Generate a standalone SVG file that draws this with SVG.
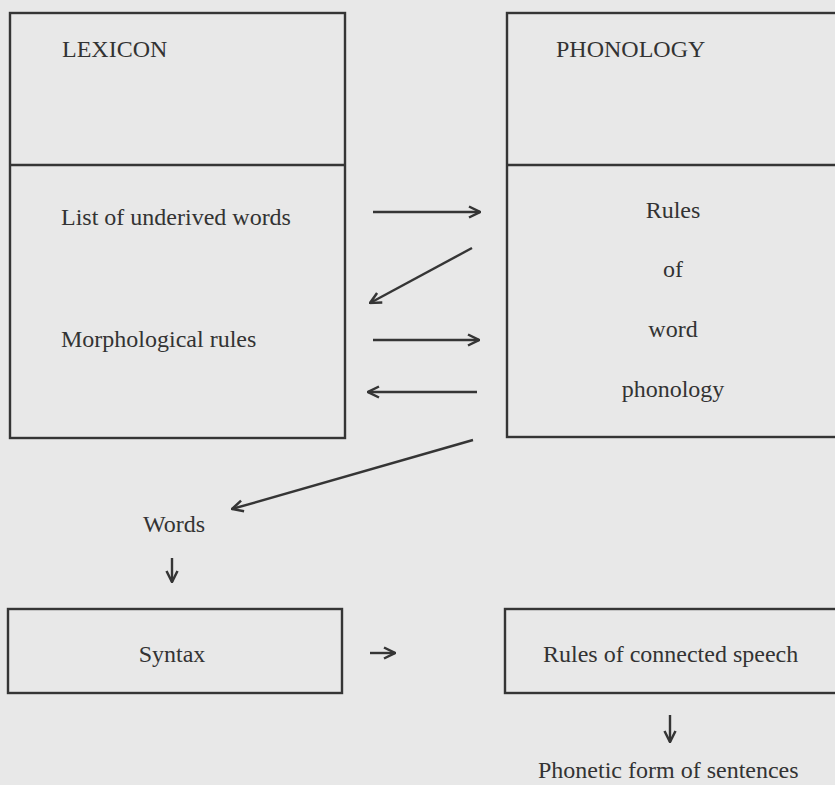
<svg xmlns="http://www.w3.org/2000/svg" width="835" height="785" viewBox="0 0 835 785">
<defs>
<style>
.box{fill:none;stroke:#353535;stroke-width:2.4}
.t{font-family:"Liberation Serif","Times New Roman",serif;font-size:24px;fill:#333}
.c{stroke:#353535;stroke-width:2.4;fill:none}
</style>
<marker id="ah" viewBox="0 0 14 14" refX="13" refY="7" markerWidth="14" markerHeight="14" markerUnits="userSpaceOnUse" orient="auto">
<path d="M2,1.5 L13,7 L2,12.5" fill="none" stroke="#353535" stroke-width="2.5"/>
</marker>
</defs>
<rect width="835" height="785" fill="#e8e8e8"/>
<g id="lexicon">
<rect class="box" x="10" y="13" width="335" height="425"/>
<line class="box" x1="10" y1="165" x2="345" y2="165"/>
<text class="t" x="62" y="57">LEXICON</text>
<text class="t" x="61" y="225">List of underived words</text>
<text class="t" x="61" y="347">Morphological rules</text>
</g>
<g id="phonology">
<rect class="box" x="507" y="13" width="340" height="424"/>
<line class="box" x1="507" y1="165" x2="840" y2="165"/>
<text class="t" x="556" y="57">PHONOLOGY</text>
<text class="t" x="673" y="218" text-anchor="middle">Rules</text>
<text class="t" x="673" y="277" text-anchor="middle">of</text>
<text class="t" x="673" y="337" text-anchor="middle">word</text>
<text class="t" x="673" y="397" text-anchor="middle">phonology</text>
</g>
<g id="words">
<text class="t" x="143" y="532">Words</text>
</g>
<g id="syntax">
<rect class="box" x="8" y="609" width="334" height="84"/>
<text class="t" x="172" y="662" text-anchor="middle">Syntax</text>
</g>
<g id="connected">
<rect class="box" x="505" y="609" width="340" height="84"/>
<text class="t" x="543" y="662">Rules of connected speech</text>
</g>
<g id="phonetic">
<text class="t" x="538" y="778">Phonetic form of sentences</text>
</g>
<g id="connectors">
<line class="c" x1="373" y1="212" x2="480" y2="212" marker-end="url(#ah)"/>
<line class="c" x1="472" y1="248" x2="370" y2="303" marker-end="url(#ah)"/>
<line class="c" x1="373" y1="340" x2="479" y2="340" marker-end="url(#ah)"/>
<line class="c" x1="477" y1="392" x2="368" y2="392" marker-end="url(#ah)"/>
<line class="c" x1="473" y1="440" x2="232" y2="509" marker-end="url(#ah)"/>
<line class="c" x1="172" y1="558" x2="172" y2="582" marker-end="url(#ah)"/>
<line class="c" x1="370" y1="653" x2="395" y2="653" marker-end="url(#ah)"/>
<line class="c" x1="670" y1="715" x2="670" y2="742" marker-end="url(#ah)"/>
</g>
</svg>
